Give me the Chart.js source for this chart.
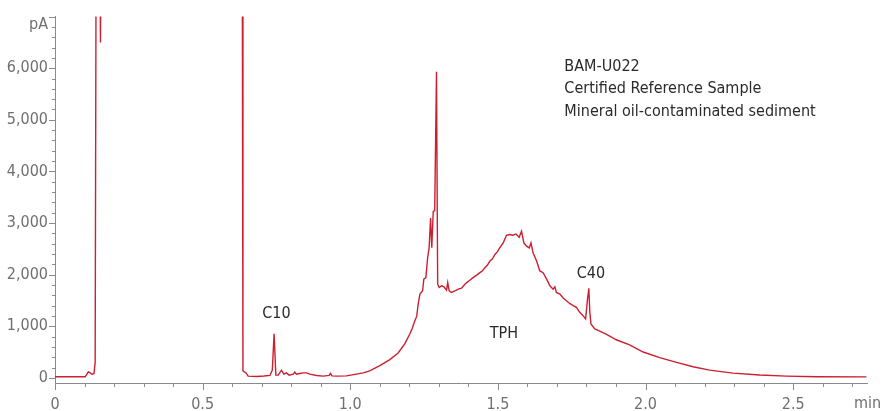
<!DOCTYPE html>
<html>
<head>
<meta charset="utf-8">
<script src="https://cdn.jsdelivr.net/npm/chart.js@4.4.1/dist/chart.umd.min.js"></script>
<style>
  html, body { margin: 0; padding: 0; background: #fff; }
  #wrap { width: 883px; height: 411px; }
</style>
</head>
<body>
<div id="wrap"><canvas id="gcCanvas" width="883" height="411"></canvas></div>
<script>
// retention time (min) and detector signal (pA)
const timeMin = [
  0.000, 0.051, 0.102, 0.108, 0.113, 0.118, 0.125, 0.132, 0.136, 0.1395,
  0.151, 0.154, 0.156, 0.634, 0.6365, 0.647, 0.654, 0.683, 0.708, 0.728,
  0.736, 0.742, 0.748, 0.756, 0.767, 0.775, 0.784, 0.793, 0.807, 0.812,
  0.818, 0.829, 0.841, 0.852, 0.863, 0.886, 0.908, 0.929, 0.933, 0.938,
  0.954, 0.987, 1.021, 1.044, 1.066, 1.100, 1.134, 1.162, 1.185, 1.202,
  1.210, 1.219, 1.225, 1.230, 1.236, 1.245, 1.249, 1.256, 1.262, 1.267, 1.272, 1.276,
  1.281, 1.286, 1.292, 1.296, 1.301, 1.309, 1.317, 1.326, 1.330, 1.335,
  1.343, 1.352, 1.360, 1.368, 1.377, 1.386, 1.394, 1.405, 1.416, 1.428, 1.439, 1.447, 1.456,
  1.464, 1.473, 1.481, 1.490, 1.498, 1.506,
  1.518, 1.529, 1.540, 1.551, 1.561, 1.572, 1.580, 1.588, 1.597, 1.606,
  1.612, 1.619, 1.631, 1.642, 1.653, 1.665, 1.676, 1.687, 1.693, 1.698,
  1.710, 1.721, 1.732, 1.743, 1.755, 1.766, 1.777, 1.791, 1.797, 1.803,
  1.808, 1.811, 1.815, 1.828, 1.845, 1.868, 1.901, 1.946, 1.992, 2.048,
  2.105, 2.161, 2.217, 2.296, 2.387, 2.477, 2.579, 2.748
];
const signalPA = [
  20, 20, 20, 70, 115, 100, 70, 80, 300, 9000,
  9000, 6500, 9000, 9000, 135, 96, 33, 27, 35, 46,
  150, 853, 52, 52, 148, 71, 96, 52, 71, 110,
  71, 85, 96, 96, 71, 46, 33, 46, 85, 38,
  33, 38, 71, 96, 135, 238, 354, 481, 662, 854,
  960, 1110, 1190, 1431, 1623, 1687, 1912, 1942, 2327, 2519, 3096, 2519,
  3225, 3238, 5930, 1815, 1750, 1783, 1763, 1700, 1846, 1687,
  1654, 1680, 1700, 1725, 1738, 1800, 1846, 1890, 1942, 1990, 2038, 2070, 2135,
  2180, 2263, 2300, 2392, 2440, 2519,
  2615, 2763, 2777, 2763, 2788, 2725, 2840, 2615, 2552, 2519,
  2615, 2423, 2263, 2071, 2038, 1912, 1783, 1719, 1763, 1654,
  1623, 1546, 1494, 1442, 1398, 1365, 1269, 1186, 1142, 1500,
  1735, 1300, 1046, 950, 904, 840, 738, 640, 500, 392,
  300, 215, 150, 92, 55, 33, 20, 19
];

// peak labels placed at (time, signal)
const peakLabels = ['C10', 'TPH', 'C40'];
const peakLabelTime = [0.75, 1.52, 1.815];
const peakLabelSignal = [1240, 845, 2010];

const sampleInfo = ['BAM-U022', 'Certified Reference Sample', 'Mineral oil-contaminated sediment'];

const yTickLabels = [0, 1000, 2000, 3000, 4000, 5000, 6000];
const xTickLabels = [0, 0.5, 1.0, 1.5, 2.0, 2.5];

const FONT = "'Liberation Sans Narrow', 'DejaVu Sans Condensed', Roboto, sans-serif";
const AXIS_GRAY = '#8a8a8a';
const TEXT_GRAY = '#6f6f6f';
const TRACE_RED = '#cc1f2f';

const points = timeMin.map(function (t, i) { return { x: t, y: signalPA[i] }; });

// minor/major tick marks and axis unit labels, drawn after the scales
const axisDecor = {
    id: 'axisDecor',
    afterDraw: function (chart) {
        const ctx = chart.ctx;
        const xs = chart.scales.x;
        const ys = chart.scales.y;
        const area = chart.chartArea;
        ctx.save();
        ctx.strokeStyle = AXIS_GRAY;
        ctx.lineWidth = 1;
        ctx.beginPath();
        for (let v = 0; v <= 7000; v += 200) {
            const py = Math.round(ys.getPixelForValue(v)) + 0.5;
            const len = (v % 1000 === 0) ? 6 : 3;
            ctx.moveTo(area.left, py);
            ctx.lineTo(area.left - len, py);
        }
        for (let k = 0; k <= 27; k++) {
            const px = Math.round(xs.getPixelForValue(k / 10)) + 0.5;
            const len = (k % 5 === 0) ? 7 : 4;
            ctx.moveTo(px, area.bottom);
            ctx.lineTo(px, area.bottom + len);
        }
        ctx.stroke();

        ctx.fillStyle = TEXT_GRAY;
        ctx.font = '16px ' + FONT;
        ctx.textBaseline = 'middle';
        ctx.textAlign = 'right';
        ctx.fillText('pA', area.left - 7, area.top + 8);
        ctx.textAlign = 'left';
        ctx.fillText('min', area.right - 13, area.bottom + 21);

        // annotations
        ctx.fillStyle = '#2a2a2a';
        ctx.font = '16px ' + FONT;
        ctx.textAlign = 'center';
        for (let i = 0; i < peakLabels.length; i++) {
            ctx.fillText(peakLabels[i], xs.getPixelForValue(peakLabelTime[i]), ys.getPixelForValue(peakLabelSignal[i]));
        }
        ctx.textAlign = 'left';
        for (let i = 0; i < sampleInfo.length; i++) {
            ctx.fillText(sampleInfo[i], xs.getPixelForValue(1.725), ys.getPixelForValue(6030) + i * 22.5);
        }
        ctx.restore();
    }
};

let ctx = document.getElementById('gcCanvas').getContext('2d');
let gcChart = new Chart(ctx, {
    type: 'line',
    data: {
        datasets: [{
            label: 'FID signal',
            data: points,
            borderColor: TRACE_RED,
            borderWidth: 1.4,
            pointRadius: 0,
            tension: 0,
            fill: false,
            clip: 0
        }]
    },
    options: {
        responsive: false,
        animation: false,
        layout: { padding: { left: 0, right: 16, top: 13, bottom: 0 } },
        plugins: {
            legend: { display: false },
            tooltip: { enabled: false }
        },
        scales: {
            x: {
                type: 'linear',
                min: 0,
                max: 2.75,
                afterFit: function (scale) { scale.height = 28; },
                afterBuildTicks: function (scale) {
                    scale.ticks = xTickLabels.map(function (v) { return { value: v }; });
                },
                grid: { display: false, drawTicks: false },
                border: { display: true, color: AXIS_GRAY, width: 1 },
                ticks: {
                    autoSkip: false,
                    maxRotation: 0,
                    padding: 12,
                    color: TEXT_GRAY,
                    font: { family: FONT, size: 16 },
                    callback: function (v) { return v === 0 ? '0' : v.toFixed(1); }
                }
            },
            y: {
                type: 'linear',
                min: -100,
                max: 7000,
                afterFit: function (scale) { scale.width = 55; },
                afterBuildTicks: function (scale) {
                    scale.ticks = yTickLabels.map(function (v) { return { value: v }; });
                },
                grid: { display: false, drawTicks: false },
                border: { display: true, color: AXIS_GRAY, width: 1 },
                ticks: {
                    autoSkip: false,
                    padding: 7,
                    color: TEXT_GRAY,
                    font: { family: FONT, size: 16 },
                    callback: function (v) { return v.toLocaleString('en-US'); }
                }
            }
        }
    },
    plugins: [axisDecor]
});
</script>
</body>
</html>
